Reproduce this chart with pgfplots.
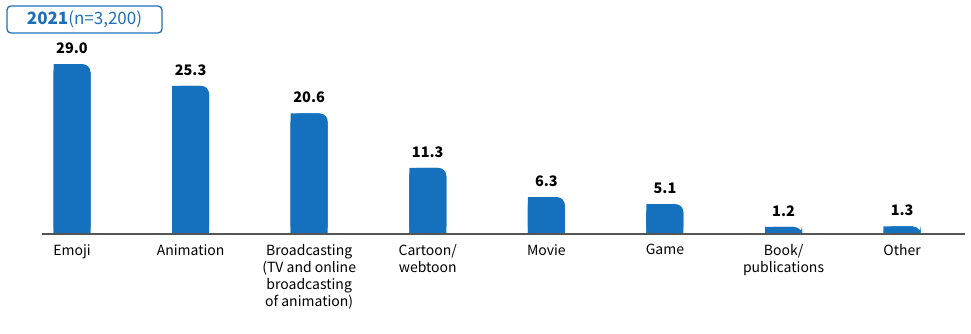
\documentclass[border=0pt]{standalone}
\usepackage{pgfplots}
\pgfplotsset{compat=1.18}
\usepackage{fontspec}
\setmainfont{Noto Sans CJK KR}
\definecolor{barblue}{HTML}{1570BE}
\definecolor{titleblue}{HTML}{1F6FB8}
\definecolor{axisgray}{HTML}{555555}
\begin{document}
\begin{tikzpicture}
\useasboundingbox (0,0) rectangle (971pt,333pt);
\begin{axis}[
  at={(42pt,99pt)}, anchor=south west,
  scale only axis, width=923pt, height=205pt,
  xmin=-0.253, xmax=7.53, ymin=0, ymax=35,
  clip=false,
  axis x line=bottom, axis y line=none,
  axis line style={axisgray, line width=1.4pt, -},
  axis on top,
  xtick={0,1,2,3,4,5,6,7},
  xticklabels={Emoji, Animation, {Broadcasting\\(TV and online\\broadcasting\\of animation)}, {Cartoon/\\webtoon}, Movie, Game, {Book/\\publications}, Other},
  xticklabel style={align=center, font=\fontsize{14}{17}\selectfont, yshift=-7pt},
  major tick length=0pt,
  ybar,
  /pgf/number format/assume math mode=true,
]
\addplot[fill=barblue, draw=none, bar width=37pt, bar shift=0pt, rounded corners=8pt,
  nodes near coords, nodes near coords style={font=\fontsize{14.5}{16}\bfseries, black, /pgf/number format/fixed, /pgf/number format/fixed zerofill, /pgf/number format/precision=1, yshift=7pt}]
  coordinates {(0,29.0) (1,25.3) (2,20.6) (3,11.3) (4,6.3) (5,5.1) (6,1.2) (7,1.3)};
\addplot[fill=barblue, draw=none, bar width=29pt, bar shift=-4pt]
  coordinates {(0,29.0) (1,25.3) (2,20.6) (3,11.3) (4,6.3) (5,5.1) (6,1.2) (7,1.3)};
\addplot[fill=barblue, draw=none, bar width=37pt, bar shift=0pt]
  coordinates {(0,27.6) (1,23.9) (2,19.2) (3,9.9) (4,4.9) (5,3.7) (6,0.6) (7,0.65)};
\end{axis}
\draw[titleblue, line width=1.3pt, rounded corners=4pt] (7pt,300pt) rectangle (162pt,327pt);
\node[titleblue, font=\fontsize{17}{20}\selectfont] at (84.5pt,313.5pt) {\textbf{2021}(n=3,200)};
\end{tikzpicture}
\end{document}
